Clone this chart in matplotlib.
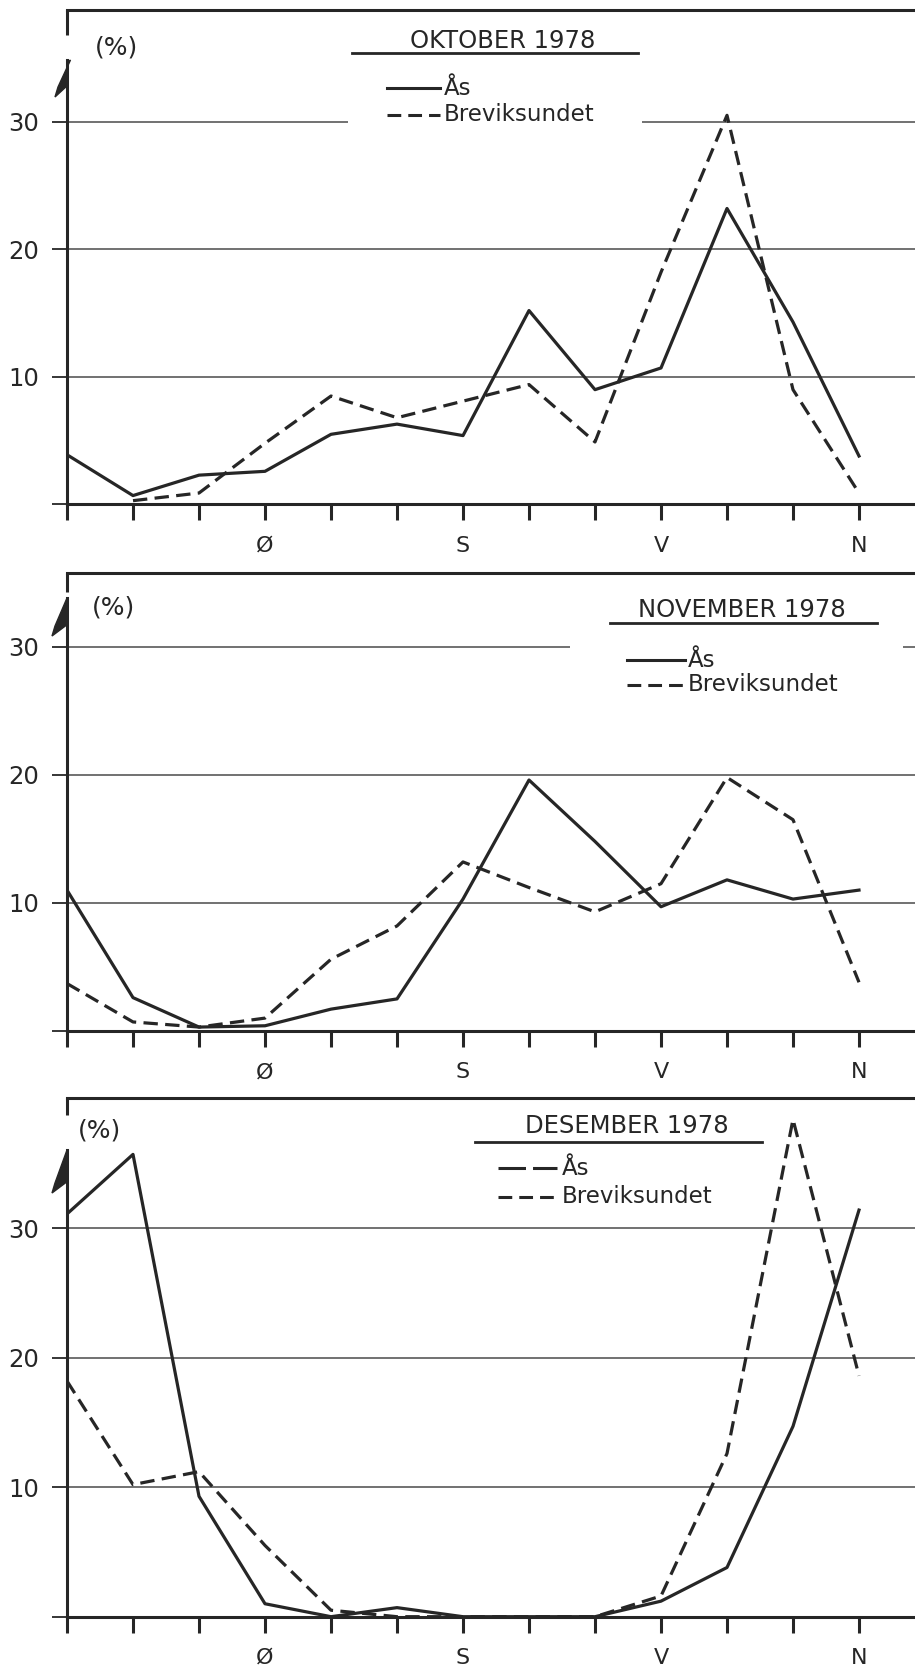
import matplotlib
matplotlib.use('Agg')
import matplotlib.pyplot as plt
from matplotlib.lines import Line2D
from matplotlib.patches import Rectangle

# vindretning i 30 graders sektorer, fra N rundt til N igjen
retning = list(range(13))
retning_labels = ['', '', '', 'Ø', '', '', 'S', '', '', 'V', '', '', 'N']

titler = ['OKTOBER 1978', 'NOVEMBER 1978', 'DESEMBER 1978']
serie_navn = ['Ås', 'Breviksundet']

nan = float('nan')
aas_okt = [3.9, 0.7, 2.3, 2.6, 5.5, 6.3, 5.4, 15.2, 9.0, 10.7, 23.2, 14.3, 3.8]
brev_okt = [nan, 0.3, 0.9, 4.8, 8.5, 6.8, 8.1, 9.4, 4.9, 18.2, 30.5, 9.0, 0.9]

aas_nov = [11.0, 2.6, 0.3, 0.4, 1.7, 2.5, 10.3, 19.6, 14.8, 9.7, 11.8, 10.3, 11.0]
brev_nov = [3.7, 0.7, 0.3, 1.0, 5.6, 8.2, 13.2, 11.2, 9.3, 11.5, 19.8, 16.5, 3.8]

aas_des = [31.1, 35.7, 9.3, 1.0, 0.0, 0.7, 0.0, 0.0, 0.0, 1.2, 3.8, 14.7, 31.4]
brev_des = [18.2, 10.2, 11.2, 5.5, 0.5, 0.0, 0.0, 0.0, 0.0, 1.6, 12.6, 38.4, 18.6]

y_ticks = [0, 10, 20, 30]
y_tick_labels = ['', '10', '20', '30']

W, H = 915, 1669
X0 = 67        # pixel x of the y-axis
PX_UNIT = 66   # pixels per direction step
INK = '#262626'
DASH = (0, (4.5, 2.3))

plt.rcParams['font.family'] = ['DejaVu Sans']


def fx(px):
    return px / W


def fy(py):
    return 1 - py / H


# layout of the three panels, in pixels of the scanned page
panels = [
    dict(zero=504.5, top=10, px10=127.6, pct=(117, 48),
         tip=(70.5, 60), barb=(55, 97), corner=35,
         title=(503, 48), ul=(352, 638, 53), hx=(387, 440),
         y_as=88, y_brev=115, tx=443, as_dash=None, box=(348, 25, 642, 128)),
    dict(zero=1030.9, top=573, px10=128.0, pct=(113, 607),
         tip=(67, 598), barb=(52, 636), corner=592,
         title=(742, 617), ul=(610, 877, 623), hx=(627, 685),
         y_as=660, y_brev=685, tx=687, as_dash=None, box=(570, 594, 903, 705)),
    dict(zero=1616.7, top=1098, px10=129.5, pct=(100, 1130),
         tip=(67, 1150), barb=(52, 1193), corner=1115,
         title=(627, 1133), ul=(475, 762, 1142), hx=(498, 557),
         y_as=1168, y_brev=1197, tx=561, as_dash=(0, (9, 2.3)), box=None),
]
serier = [(aas_okt, brev_okt), (aas_nov, brev_nov), (aas_des, brev_des)]

fig = plt.figure(figsize=(W / 100, H / 100), dpi=100)

for p, tittel, (aas, brev) in zip(panels, titler, serier):
    unit = p['px10'] / 10.0
    ax = fig.add_axes([fx(X0), fy(p['zero']), (W - X0) / W,
                       (p['zero'] - p['top']) / H])
    ax.set_xlim(0, (W - X0) / PX_UNIT)
    ax.set_ylim(0, (p['zero'] - p['top']) / unit)

    def dx(px):
        return (px - X0) / PX_UNIT

    def dy(py, p=p, unit=unit):
        return (p['zero'] - py) / unit

    ax.spines['right'].set_visible(False)
    for s in ['top', 'bottom', 'left']:
        ax.spines[s].set_linewidth(2.2)
        ax.spines[s].set_color(INK)
    ax.spines['left'].set_bounds(0, dy(p['tip'][1]))

    # short piece of the frame at the top-left corner
    ax.plot([0, 0], [dy(p['corner']), dy(p['top'])], color=INK, lw=2.2,
            clip_on=False, solid_capstyle='butt')
    # half arrow head (barb) on the left of the y-axis
    tx_, ty_ = p['tip']
    bx_, by_ = p['barb']
    ax.fill([dx(tx_), dx(bx_ + 3), dx(bx_), dx(X0 + 1), dx(X0 + 1)],
            [dy(ty_), dy(by_ - 10), dy(by_), dy(by_ - 12), dy(ty_ + 2)],
            color=INK, clip_on=False, lw=1)

    ax.set_xticks(retning, retning_labels)
    ax.tick_params(axis='x', direction='out', length=11.5, width=2.2,
                   pad=11, labelsize=16, colors=INK)
    ax.set_yticks(y_ticks, y_tick_labels)
    ax.tick_params(axis='y', direction='out', length=10.8, width=1.3,
                   pad=9, labelsize=17.5, colors=INK)

    ax.grid(axis='y', color='#4a4a4a', lw=1.1)
    ax.set_axisbelow(True)

    if p['box'] is not None:
        bx0, by0, bx1, by1 = p['box']
        ax.add_patch(Rectangle((fx(bx0), fy(by1)), (bx1 - bx0) / W,
                               (by1 - by0) / H, transform=fig.transFigure,
                               facecolor='white', edgecolor='none', zorder=1))

    ax.plot(retning, aas, color=INK, lw=2.3, zorder=3)
    ax.plot(retning, brev, color=INK, lw=2.3, ls=DASH, zorder=3)

    fig.text(fx(p['pct'][0]), fy(p['pct'][1]), '(%)', ha='center',
             va='center', fontsize=18, color=INK)

    # hand drawn legend
    fig.text(fx(p['title'][0]), fy(p['title'][1]), tittel, ha='center',
             va='baseline', fontsize=17.5, color=INK)
    u0, u1, uy = p['ul']
    fig.add_artist(Line2D([fx(u0), fx(u1)], [fy(uy), fy(uy)], color=INK,
                          lw=2.0, transform=fig.transFigure))
    h0, h1 = p['hx']
    as_ls = '-' if p['as_dash'] is None else p['as_dash']
    fig.add_artist(Line2D([fx(h0), fx(h1)], [fy(p['y_as']), fy(p['y_as'])],
                          color=INK, lw=2.2, ls=as_ls,
                          transform=fig.transFigure))
    fig.add_artist(Line2D([fx(h0), fx(h1)], [fy(p['y_brev']), fy(p['y_brev'])],
                          color=INK, lw=2.2, ls=DASH,
                          transform=fig.transFigure))
    fig.text(fx(p['tx'] + 1), fy(p['y_as'] + 7), serie_navn[0], ha='left',
             va='baseline', fontsize=16.5, color=INK)
    fig.text(fx(p['tx'] + 1), fy(p['y_brev'] + 6), serie_navn[1], ha='left',
             va='baseline', fontsize=16.5, color=INK)

fig.savefig('out.png', dpi=100, facecolor='white')
